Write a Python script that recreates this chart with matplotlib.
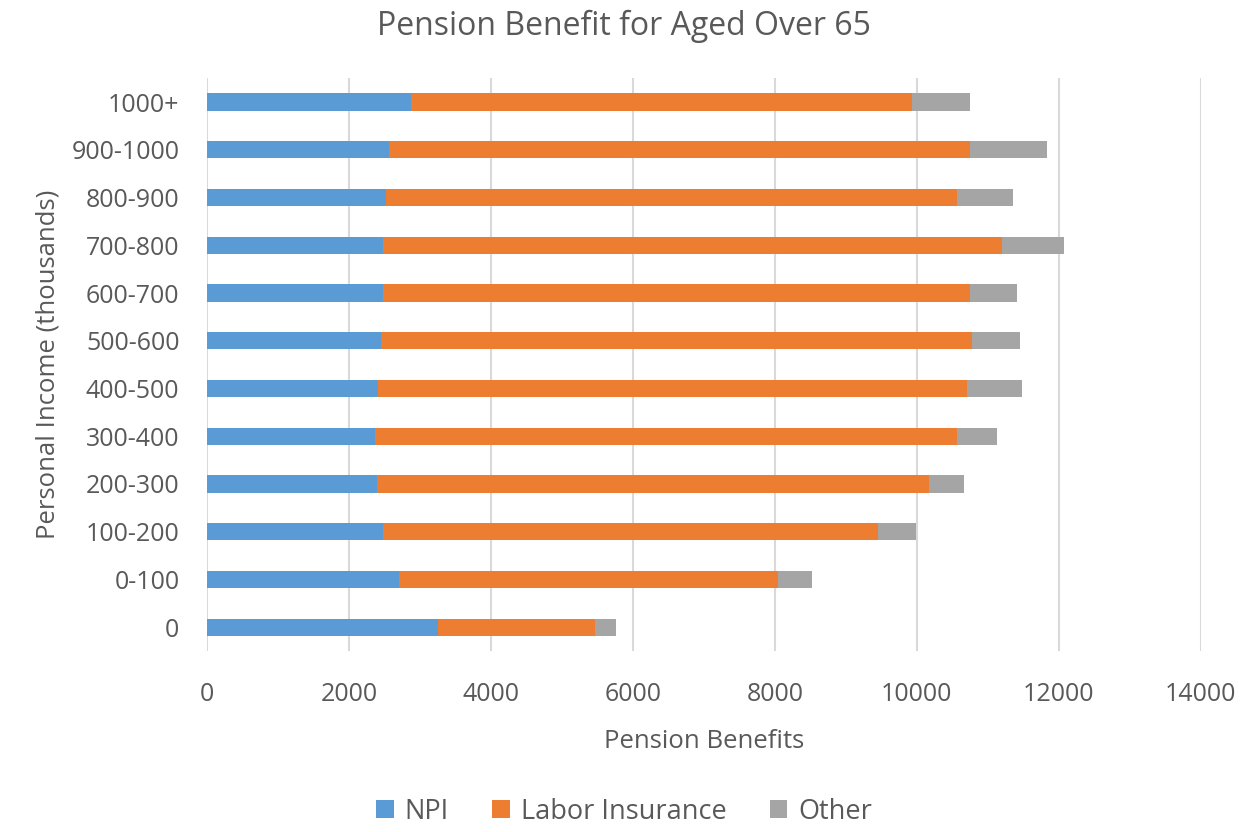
import numpy as np
import matplotlib.pyplot as plt

categories = ["0", "0-100", "100-200", "200-300", "300-400", "400-500",
              "500-600", "600-700", "700-800", "800-900", "900-1000", "1000+"]
npi = [3249, 2705, 2480, 2396, 2359, 2401, 2443, 2480, 2480, 2522, 2560, 2874]
labor = [2211, 5334, 6974, 7775, 8206, 8304, 8333, 8268, 8718, 8052, 8197, 7053]
other = [295, 483, 540, 502, 572, 784, 680, 670, 881, 784, 1073, 830]

text_color = "#595959"
plt.rcParams['font.family'] = ['Open Sans', 'DejaVu Sans']

fig = plt.figure(figsize=(12.48, 8.32), dpi=100)
ax = fig.add_axes([0.166, 0.2175, 0.796, 0.6885])

y = np.arange(len(categories))
h = 0.36
npi_arr = np.array(npi)
labor_arr = np.array(labor)
ax.barh(y, npi, height=h, color="#5B9BD5", label="NPI", zorder=3)
ax.barh(y, labor, left=npi_arr, height=h, color="#ED7D31", label="Labor Insurance", zorder=3)
ax.barh(y, other, left=npi_arr + labor_arr, height=h, color="#A5A5A5", label="Other", zorder=3)

ax.set_xlim(0, 14000)
ax.set_ylim(-0.5, len(categories) - 0.5)
ax.set_xticks(np.arange(0, 14001, 2000))
ax.set_yticks(y)
ax.set_yticklabels(categories)
ax.grid(axis="x", color="#D9D9D9", linewidth=1.5, zorder=0)
for s in ax.spines.values():
    s.set_visible(False)
ax.tick_params(axis="both", length=0, labelsize=18, colors=text_color)
ax.tick_params(axis="x", pad=22)
ax.tick_params(axis="y", pad=20)

ax.set_xlabel("Pension Benefits", fontsize=18.5, color=text_color, labelpad=16)
ax.set_ylabel("Personal Income (thousands)", fontsize=18.5, color=text_color, labelpad=8)
fig.suptitle("Pension Benefit for Aged Over 65", fontsize=23, color=text_color, y=0.988)

leg = fig.legend(loc="lower center", ncol=3, frameon=False, fontsize=19.5,
                 bbox_to_anchor=(0.5, -0.022), handlelength=0.65, handleheight=0.65,
                 columnspacing=1.6, handletextpad=0.4)
for t in leg.get_texts():
    t.set_color(text_color)

fig.savefig("out.png", dpi=100)
